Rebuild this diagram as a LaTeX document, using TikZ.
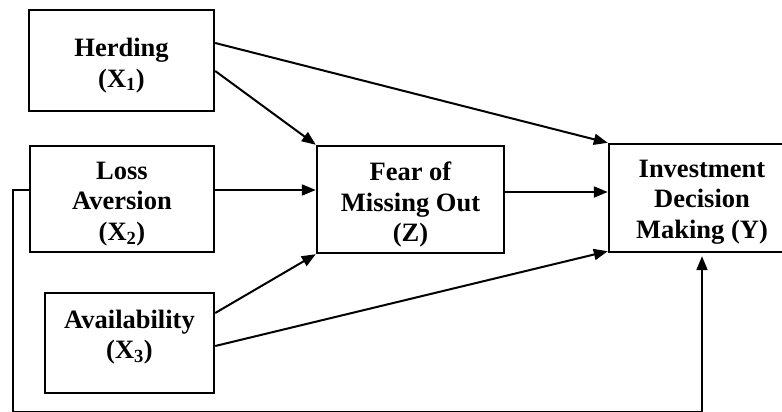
\documentclass[tikz,border=0pt]{standalone}
\usepackage{fontspec}
\setmainfont{Liberation Serif}
\usetikzlibrary{arrows.meta,calc}
\begin{document}
\begin{tikzpicture}[x=1pt,y=-1pt,
  box/.style={draw,line width=2.4pt,rectangle,inner sep=0pt},
  txt/.style={align=center,inner sep=0pt,font=\fontsize{26.5}{30.5}\selectfont\bfseries},
  arr/.style={line width=2pt,-{Triangle[length=14pt,width=11pt]}},
  ln/.style={line width=2pt}]
\useasboundingbox (0,0) rectangle (782,412);
\node[box,minimum width=185pt,minimum height=101pt] (H) at (121.5,60.5) {};
\node[box,minimum width=184pt,minimum height=106pt] (L) at (122,199) {};
\node[box,minimum width=169pt,minimum height=100pt] (A) at (129.5,343) {};
\node[box,minimum width=187pt,minimum height=107pt] (F) at (410.5,199.5) {};
\node[box,minimum width=186pt,minimum height=108pt] (I) at (702,198) {};
\node[txt] (Ht) at ([yshift=-5pt]H.center) {Herding\\(X\textsubscript{1})};
\node[txt] (Lt) at ([yshift=-5pt]L.center) {Loss\\Aversion\\(X\textsubscript{2})};
\node[txt] (At) at ([yshift=6pt]A.center) {Availability\\(X\textsubscript{3})};
\node[txt] (Ft) at ([yshift=-5pt]F.center) {Fear of\\Missing Out\\(Z)};
\node[txt] (It) at ([yshift=-4pt]I.center) {Investment\\Decision\\Making (Y)};
\coordinate (lb) at (13,411.8);
\draw[arr] ([yshift=-10.5pt]H.east) -- (F.north west);
\draw[arr] ([yshift=17.5pt]H.east) -- (I.north west);
\draw[arr] ([yshift=9pt]L.east) -- ([yshift=9pt]L.east -| F.west);
\draw[arr] ([yshift=7.5pt]F.east) -- ([yshift=7.5pt]F.east -| I.west);
\draw[arr] ([yshift=30pt]A.east) -- (F.south west);
\draw[arr] ([yshift=-3pt]A.east) -- ([yshift=2pt]I.south west);
\draw[ln] ([yshift=9pt]L.west) -| (lb);
\draw[arr] (lb) -| ([yshift=-3pt]I.south);
\end{tikzpicture}
\end{document}
